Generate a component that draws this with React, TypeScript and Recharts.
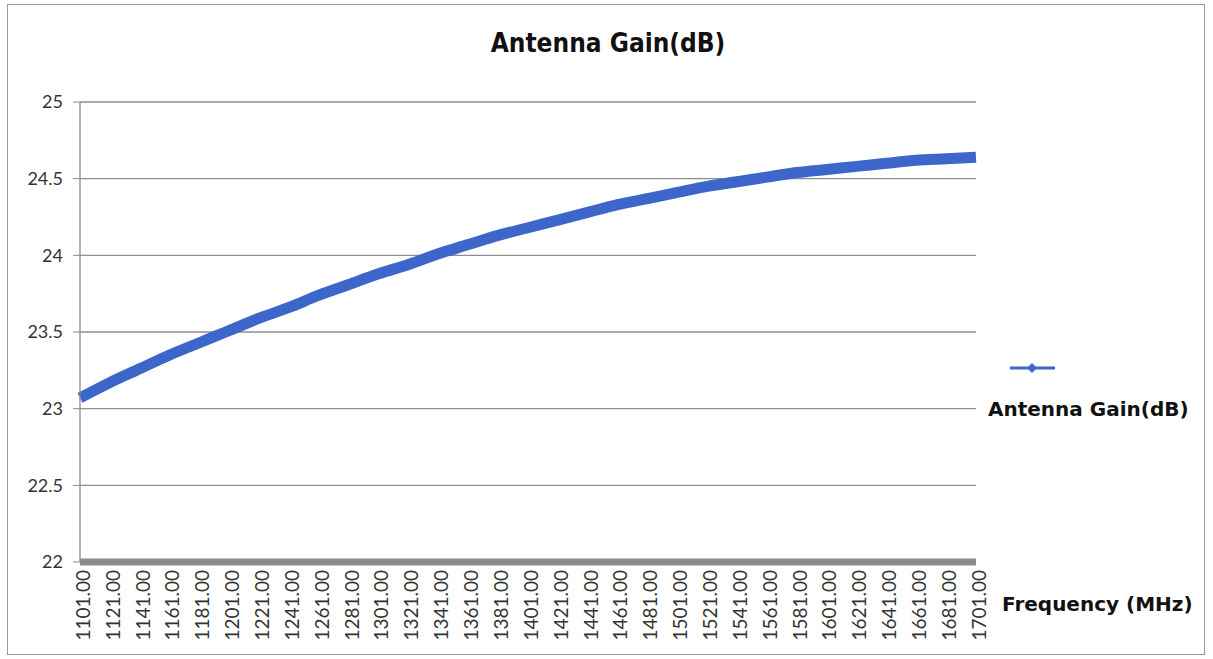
import { LineChart, Line, XAxis, YAxis, CartesianGrid } from 'recharts'

// Frequency categories (MHz) as printed on the axis
const frequencies = [
  '1101.00', '1121.00', '1141.00', '1161.00', '1181.00', '1201.00', '1221.00', '1241.00',
  '1261.00', '1281.00', '1301.00', '1321.00', '1341.00', '1361.00', '1381.00', '1401.00',
  '1421.00', '1441.00', '1461.00', '1481.00', '1501.00', '1521.00', '1541.00', '1561.00',
  '1581.00', '1601.00', '1621.00', '1641.00', '1661.00', '1681.00', '1701.00',
]

// Gain at each labelled frequency
const gains = [
  23.07, 23.17, 23.26, 23.35, 23.43, 23.51, 23.59, 23.66,
  23.74, 23.81, 23.88, 23.94, 24.01, 24.07, 24.13, 24.18,
  24.23, 24.28, 24.33, 24.37, 24.41, 24.45, 24.48, 24.51,
  24.54, 24.56, 24.58, 24.6, 24.62, 24.63, 24.64,
]

const yTicks = [22, 22.5, 23, 23.5, 24, 24.5, 25]

const seriesName = 'Antenna Gain(dB)'
const LINE_COLOR = '#3c66ca'
const FONT = 'Lato, "Open Sans", sans-serif'
const BOLD_FONT = '"DejaVu Sans", sans-serif'

const data = frequencies.map((f, i) => ({ freq: f, gain: gains[i] }))

function FreqTick(props: any) {
  const { x, y, payload } = props
  const tx = x + 3
  return (
    <text
      x={tx}
      y={y}
      transform={`rotate(-90, ${tx}, ${y})`}
      textAnchor="end"
      dy="0.36em"
      fontSize={19}
      fontFamily={FONT}
      fill="#333"
    >
      {payload.value}
    </text>
  )
}

function AxisTitle(props: any) {
  const { viewBox } = props
  return (
    <text
      x={viewBox.x + viewBox.width + 26}
      y={viewBox.y + 49}
      fontSize={20}
      fontWeight="bold"
      fontFamily={BOLD_FONT}
      fill="#111"
    >
      Frequency (MHz)
    </text>
  )
}

function LegendBox() {
  return (
    <svg width={230} height={70} style={{ display: 'block' }}>
      <line x1={22} y1={10} x2={67} y2={10} stroke={LINE_COLOR} strokeWidth={3} />
      <path d="M44 5 L49 10 L44 15 L39 10 Z" fill={LINE_COLOR} />
      <text x={0} y={58} fontSize={20} fontWeight="bold" fontFamily={BOLD_FONT} fill="#111">
        {seriesName}
      </text>
    </svg>
  )
}

export default function App() {
  return (
    <div
      style={{
        position: 'fixed',
        left: 0,
        top: 0,
        width: 1213,
        height: 659,
        background: '#fff',
        overflow: 'hidden',
      }}
    >
      <div
        style={{
          position: 'absolute',
          left: 7,
          top: 4,
          width: 1198,
          height: 651,
          border: '1px solid #9a9a9a',
          boxSizing: 'border-box',
        }}
      />
      <div
        style={{
          position: 'absolute',
          left: 0,
          top: 28,
          width: 1216,
          textAlign: 'center',
          fontFamily: '"DejaVu Sans Condensed", "DejaVu Sans", sans-serif',
          fontWeight: 'bold',
          fontSize: 26,
          color: '#111',
        }}
      >
        Antenna Gain(dB)
      </div>
      <div style={{ position: 'absolute', left: 988, top: 358 }}>
        <LegendBox />
      </div>
      <div style={{ position: 'absolute', left: 0, top: 0 }}>
        <LineChart
          width={1213}
          height={659}
          data={data}
          margin={{ top: 102, right: 237, bottom: 37, left: 0 }}
        >
          <CartesianGrid vertical={false} stroke="#8e8e8e" strokeWidth={1.3} />
          <XAxis
            dataKey="freq"
            interval={0}
            height={60}
            tick={<FreqTick />}
            tickLine={false}
            axisLine={{ stroke: '#8a8a8a', strokeWidth: 7 }}
            label={<AxisTitle />}
          />
          <YAxis
            domain={[22, 25]}
            ticks={yTicks}
            width={80}
            tickSize={7}
            tickMargin={10}
            tick={{ fontSize: 18, fontFamily: FONT, fill: '#333' }}
            tickLine={{ stroke: '#8a8a8a' }}
            axisLine={{ stroke: '#8a8a8a', strokeWidth: 1.3 }}
          />
          <Line
            type="monotone"
            dataKey="gain"
            name={seriesName}
            stroke={LINE_COLOR}
            strokeWidth={11}
            dot={false}
            isAnimationActive={false}
          />
        </LineChart>
      </div>
    </div>
  )
}
